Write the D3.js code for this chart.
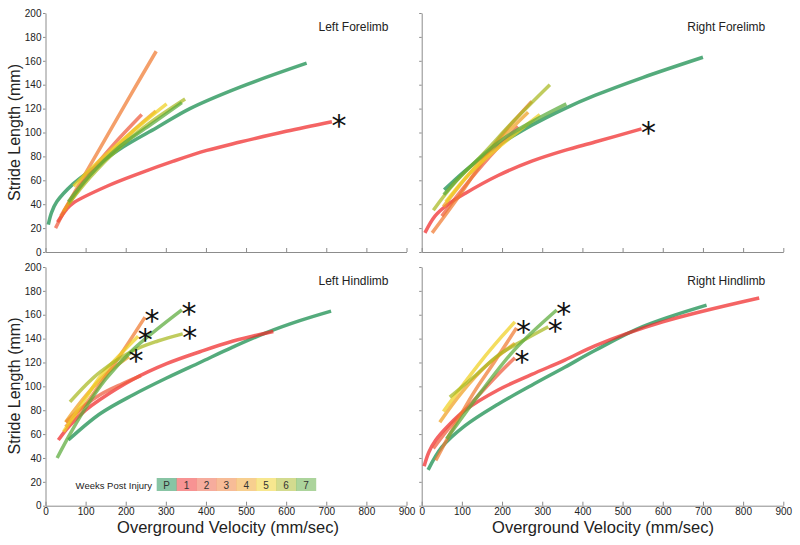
<!DOCTYPE html>
<html>
<head>
<meta charset="utf-8">
<script src="https://cdn.jsdelivr.net/npm/d3@7"></script>
<style>
  html, body { margin: 0; padding: 0; background: #fff; }
  svg { display: block; font-family: "Liberation Sans", Arial, sans-serif; }
</style>
</head>
<body>
<svg id="chart" width="800" height="545"></svg>
<script>
// ---------- data ----------
const weeks = ["P", "1", "2", "3", "4", "5", "6", "7"];
const weekColors = ["#128a4a", "#f02828", "#ee5a3c", "#f07a30", "#f0a020", "#f0d020", "#a8b820", "#5aaa3a"];
const xTicks = [0, 100, 200, 300, 400, 500, 600, 700, 800, 900];
const yTicks = [0, 20, 40, 60, 80, 100, 120, 140, 160, 180, 200];
const panelTitles = ["Left Forelimb", "Right Forelimb", "Left Hindlimb", "Right Hindlimb"];
const legendTitle = "Weeks Post Injury";
const xLabel = "Overground Velocity (mm/sec)";
const yLabel = "Stride Length (mm)";

// each series: [week, velocity (mm/sec) points, stride length (mm) points]
const leftForelimb = [
  ["P", [7, 15, 28, 69, 111, 194, 277, 360, 485, 651], [23, 33, 42, 57, 68, 88, 104, 120, 138, 158]],
  ["1", [30, 53, 69, 153, 236, 319, 402, 485, 600, 714], [25, 36, 41, 55, 66, 76, 85, 92, 101, 109]],
  ["2", [25, 60, 110, 170, 240], [20, 42, 66, 90, 115]],
  ["3", [38, 95, 155, 215, 276], [30, 63, 98, 133, 168]],
  ["4", [45, 100, 160, 220, 275], [34, 60, 82, 102, 118]],
  ["5", [70, 120, 190, 250, 302], [55, 72, 93, 110, 124]],
  ["6", [57, 110, 180, 260, 348], [40, 62, 86, 108, 128]],
  ["7", [57, 110, 180, 260, 340], [42, 64, 87, 106, 125]]
];
const rightForelimb = [
  ["P", [56, 108, 190, 274, 356, 431, 550, 700], [52, 68, 89, 106, 120, 131, 146, 163]],
  ["1", [8, 33, 66, 108, 190, 274, 356, 431, 547], [16, 30, 40, 49, 64, 76, 85, 92, 103]],
  ["2", [50, 100, 170, 240], [30, 52, 80, 105]],
  ["3", [26, 83, 140, 190, 274], [16, 42, 70, 94, 126]],
  ["4", [54, 110, 190, 265], [38, 62, 92, 117]],
  ["5", [60, 120, 200, 294], [42, 66, 90, 115]],
  ["6", [29, 80, 150, 230, 319], [35, 57, 81, 110, 140]],
  ["7", [55, 110, 200, 280, 360], [48, 68, 94, 110, 124]]
];
const leftHindlimb = [
  ["P", [57, 136, 219, 302, 385, 468, 551, 634, 712], [55, 77, 93, 107, 120, 133, 145, 155, 163]],
  ["1", [32, 60, 100, 136, 219, 302, 385, 468, 568], [55, 67, 80, 89, 106, 119, 129, 138, 146]],
  ["2", [51, 90, 136, 190, 238], [70, 82, 93, 102, 109]],
  ["3", [50, 100, 136, 190, 248], [66, 85, 102, 128, 158]],
  ["4", [50, 100, 150, 208], [70, 92, 110, 125]],
  ["5", [45, 100, 136, 190, 231], [62, 90, 108, 128, 142]],
  ["6", [61, 100, 136, 219, 280, 342], [87, 101, 112, 130, 138, 144]],
  ["7", [29, 61, 100, 150, 219, 340], [40, 60, 82, 106, 131, 164]]
];
const rightHindlimb = [
  ["P", [16, 50, 108, 190, 274, 356, 431, 550, 709], [30, 49, 67, 85, 101, 116, 130, 150, 168]],
  ["1", [6, 18, 35, 66, 108, 190, 274, 356, 431, 600, 840], [33, 45, 55, 67, 80, 97, 110, 122, 134, 154, 174]],
  ["2", [29, 80, 140, 190, 232], [48, 70, 92, 110, 124]],
  ["3", [35, 80, 130, 180, 236], [38, 66, 95, 120, 149]],
  ["4", [45, 100, 160, 232], [70, 95, 117, 136]],
  ["5", [54, 100, 150, 200, 232], [79, 100, 122, 142, 154]],
  ["6", [70, 130, 190, 250, 315], [91, 108, 126, 138, 150]],
  ["7", [62, 149, 232, 336], [56, 96, 131, 164]]
];
// weeks marked with an asterisk (significant) in each panel
const leftForelimbSig = ["1"];
const rightForelimbSig = ["1"];
const leftHindlimbSig = ["3", "4", "5", "6", "7"];
const rightHindlimbSig = ["2", "3", "6", "7"];

// ---------- layout ----------
const svg = d3.select("#chart");
const color = d3.scaleOrdinal().domain(weeks).range(weekColors);

const panels = [
  {title: panelTitles[0], series: leftForelimb, sig: leftForelimbSig, x0: 45.5, x1: 406.5, y0: 252, y1: 13, yLab: true, xLab: false},
  {title: panelTitles[1], series: rightForelimb, sig: rightForelimbSig, x0: 421.7, x1: 783.3, y0: 252, y1: 13, yLab: false, xLab: false},
  {title: panelTitles[2], series: leftHindlimb, sig: leftHindlimbSig, x0: 45.5, x1: 406.5, y0: 505.7, y1: 267, yLab: true, xLab: true},
  {title: panelTitles[3], series: rightHindlimb, sig: rightHindlimbSig, x0: 421.7, x1: 783.3, y0: 505.7, y1: 267, yLab: false, xLab: true}
];

const axisColor = "#8c8c8c";
const textColor = "#222";

panels.forEach(p => {
  const x = d3.scaleLinear().domain([0, 900]).range([p.x0, p.x1]);
  const y = d3.scaleLinear().domain([0, 200]).range([p.y0, p.y1]);
  const g = svg.append("g");

  const yAx = g.append("g").attr("transform", `translate(${p.x0},0)`)
    .call(d3.axisLeft(y).tickValues(yTicks).tickSizeInner(2.5).tickSizeOuter(0).tickPadding(1.5)
      .tickFormat(p.yLab ? d3.format("d") : () => ""));
  const xAx = g.append("g").attr("transform", `translate(0,${p.y0})`)
    .call(d3.axisBottom(x).tickValues(xTicks).tickSizeInner(-4).tickSizeOuter(0).tickPadding(2)
      .tickFormat(p.xLab ? d3.format("d") : () => ""));
  [yAx, xAx].forEach(a => {
    a.select(".domain").attr("stroke", axisColor);
    a.selectAll(".tick line").attr("stroke", axisColor);
    a.selectAll(".tick text").attr("fill", textColor).style("font-size", "10px")
      .style("font-family", '"Liberation Sans", Arial, sans-serif');
  });

  g.append("text").attr("x", p.x1 - 18).attr("y", p.y1 + 17.5)
    .attr("text-anchor", "end").attr("fill", textColor).style("font-size", "12px").text(p.title);

  const line = d3.line().x(d => x(d[0])).y(d => y(d[1])).curve(d3.curveCatmullRom.alpha(0.5));
  p.series.forEach(s => {
    const pts = s[1].map((v, i) => [v, s[2][i]]);
    g.append("path").datum(pts).attr("d", line)
      .attr("fill", "none").attr("stroke", color(s[0]))
      .attr("stroke-width", 3.5).attr("stroke-opacity", 0.72);
  });

  p.series.filter(s => p.sig.includes(s[0])).forEach(s => {
    const n = s[1].length;
    const cx = x(s[1][n - 1]) + 7, cy = y(s[2][n - 1]) - 3;
    g.append("text").attr("x", cx).attr("y", cy).attr("dy", "0.57em")
      .attr("text-anchor", "middle").attr("fill", "#111")
      .style("font-family", '"DejaVu Sans", sans-serif').style("font-size", "30px").text("*");
  });
});

[132.5, 386].forEach(cy => {
  svg.append("text").attr("transform", `translate(20,${cy}) rotate(-90)`)
    .attr("text-anchor", "middle").attr("fill", textColor).style("font-size", "16px").text(yLabel);
});
[228, 603].forEach(cx => {
  svg.append("text").attr("x", cx).attr("y", 533).attr("text-anchor", "middle")
    .attr("fill", textColor).style("font-size", "16.5px").text(xLabel);
});

const lg = svg.append("g");
lg.append("text").attr("x", 152).attr("y", 488.5).attr("text-anchor", "end")
  .attr("fill", textColor).style("font-size", "9.5px").text(legendTitle);
const bw = 19.9;
weeks.forEach((w, i) => {
  lg.append("rect").attr("x", 156.7 + i * bw).attr("y", 478).attr("width", bw + 0.3).attr("height", 13)
    .attr("fill", color(w)).attr("fill-opacity", 0.5);
  lg.append("text").attr("x", 156.7 + i * bw + bw / 2).attr("y", 488.5).attr("text-anchor", "middle")
    .attr("fill", "#333").style("font-size", "10px").text(w);
});
</script>
</body>
</html>
